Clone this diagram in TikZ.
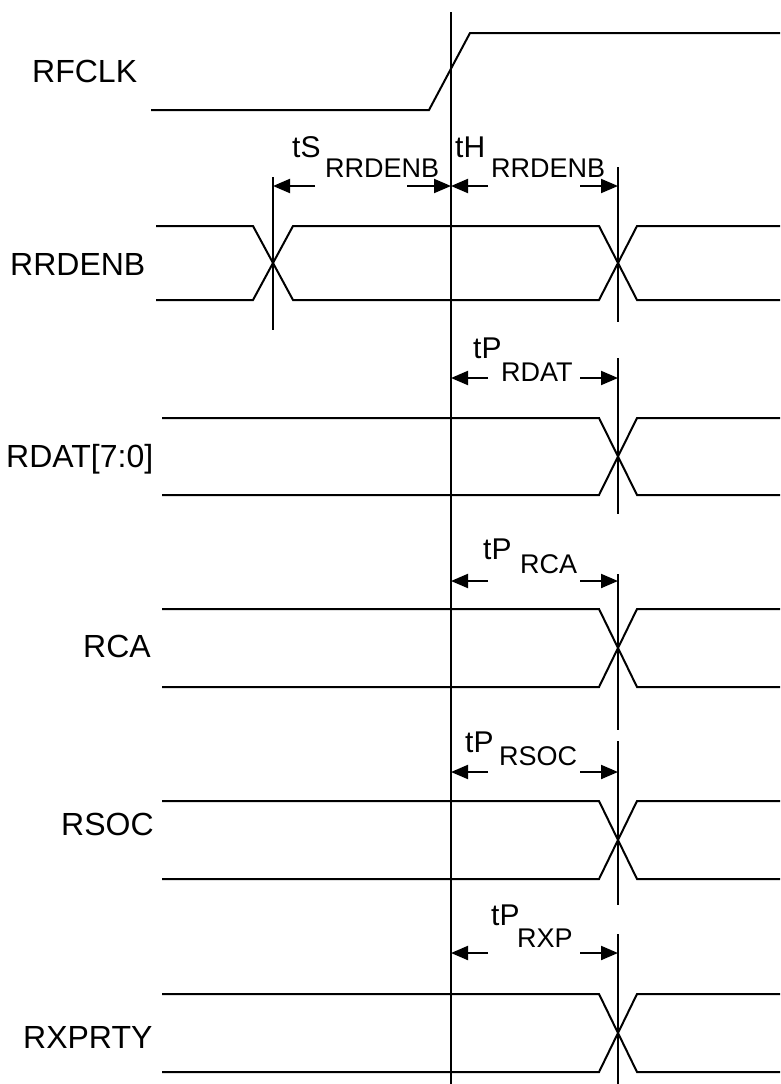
\documentclass[tikz,border=0pt]{standalone}
\usepackage{fontspec}
\setmainfont{Liberation Sans}
\usetikzlibrary{arrows.meta}
\begin{document}
\begin{tikzpicture}[x=1pt,y=-1pt,
  sig/.style={line width=2pt, line join=miter},
  vline/.style={line width=2pt},
  dim/.style={line width=2pt, -{Triangle[length=17pt,width=14pt]}},
  lbl/.style={font=\fontsize{32}{36}\selectfont, inner sep=0pt, anchor=base west},
  tlbl/.style={font=\fontsize{30}{34}\selectfont, inner sep=0pt, anchor=base west},
  slbl/.style={font=\fontsize{27}{30}\selectfont, inner sep=0pt, anchor=base west}]
\useasboundingbox (0,0) rectangle (780,1084);

% signal names
\node[lbl] (nRFCLK) at (32,82) {RFCLK};
\node[lbl] (nRRDENB) at (10,275) {RRDENB};
\node[lbl] (nRDAT) at (6,467) {RDAT[7:0]};
\node[lbl] (nRCA) at (83,657) {RCA};
\node[lbl] (nRSOC) at (61,835) {RSOC};
\node[lbl] (nRXPRTY) at (23,1048) {RXPRTY};

% reference line at clock edge
\draw[vline] (451,12) -- (451,1084);

% RFCLK
\draw[sig] (151,110) -- (429,110) -- (470,33) -- (780,33);

% RRDENB
\draw[sig] (156,226) -- (253,226) -- (293,300) -- (599,300) -- (637,226) -- (780,226);
\draw[sig] (156,300) -- (253,300) -- (293,226) -- (599,226) -- (637,300) -- (780,300);
\draw[vline] (273,177) -- (273,330);
\draw[vline] (618,167) -- (618,322);

% bus signals
\foreach \h/\l in {418/495, 609/687, 801/879, 994/1072} {
  \draw[sig] (162,\h) -- (599,\h) -- (637,\l) -- (780,\l);
  \draw[sig] (162,\l) -- (599,\l) -- (637,\h) -- (780,\h);
}
\draw[vline] (618,358) -- (618,514);
\draw[vline] (618,574) -- (618,730);
\draw[vline] (618,741) -- (618,905);
\draw[vline] (618,934) -- (618,1084);

% setup / hold
\draw[dim] (315,186) -- (273,186);
\draw[dim] (407,186) -- (451,186);
\draw[dim] (488,186) -- (451,186);
\draw[dim] (580,186) -- (618,186);
\node[tlbl] (tS) at (292,157) {tS};
\node[slbl] (tSsub) at (325,177) {RRDENB};
\node[tlbl] (tH) at (455,157) {tH};
\node[slbl] (tHsub) at (491,177) {RRDENB};

% propagation delays
\foreach \y in {378, 581, 772, 953} {
  \draw[dim] (488,\y) -- (451,\y);
  \draw[dim] (580,\y) -- (618,\y);
}
\node[tlbl] (tP1) at (473,358) {tP};
\node[slbl] (tP1sub) at (501,381) {RDAT};
\node[tlbl] (tP2) at (483,559) {tP};
\node[slbl] (tP2sub) at (520,573) {RCA};
\node[tlbl] (tP3) at (465,752) {tP};
\node[slbl] (tP3sub) at (499,765) {RSOC};
\node[tlbl] (tP4) at (491,925) {tP};
\node[slbl] (tP4sub) at (517,947) {RXP};
\end{tikzpicture}
\end{document}
